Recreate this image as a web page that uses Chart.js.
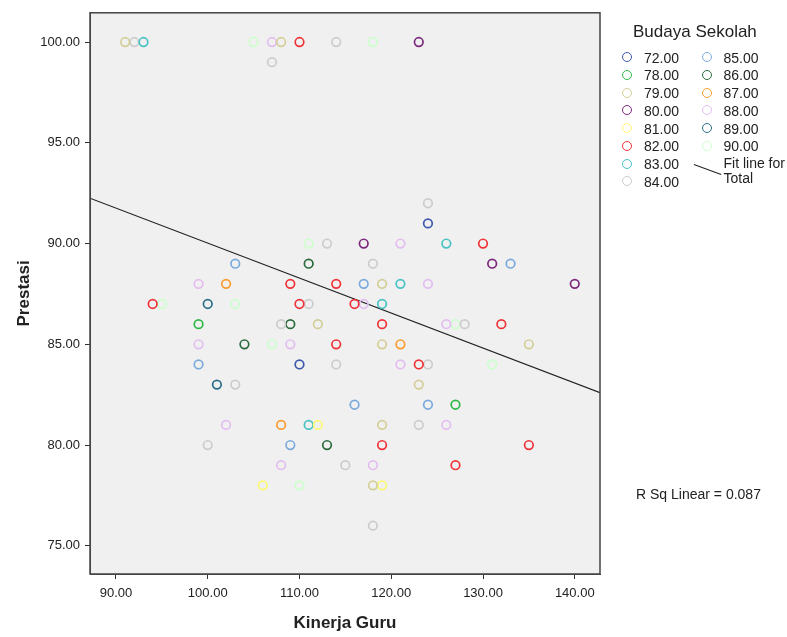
<!DOCTYPE html>
<html>
<head>
<meta charset="utf-8">
<title>Kinerja Guru vs Prestasi</title>
<script src="https://cdn.jsdelivr.net/npm/chart.js@4.4.1/dist/chart.umd.min.js"></script>
<style>
  body { margin: 0; background: #fff; font-family: "Liberation Sans", Arial, sans-serif; color: #222; }
  #wrap { position: relative; width: 787px; height: 637px; }
  #chart { position: absolute; left: 0; top: 0; }
  .leg-title { position: absolute; left: 633px; top: 22px; font-size: 17px; line-height: 20px; white-space: nowrap; }
  .leg-item { position: absolute; font-size: 14px; line-height: 16px; white-space: nowrap; }
  .leg-dot { position: absolute; width: 8px; height: 8px; border-radius: 50%; border: 1.6px solid; }
  .leg-fit { position: absolute; left: 693px; top: 169px; width: 29px; height: 1.3px; background: #222; transform: rotate(20deg); transform-origin: center; }
  .rsq { position: absolute; left: 636px; top: 486px; font-size: 14px; line-height: 16px; white-space: nowrap; }
</style>
</head>
<body>
<div id="wrap">
  <canvas id="chart" width="787" height="637"></canvas>
  <div id="legend"></div>
  <div class="rsq">R Sq Linear = 0.087</div>
</div>
<script>
// Budaya Sekolah groups and their SPSS colours
const groupLabels = ['72.00', '78.00', '79.00', '80.00', '81.00', '82.00', '83.00', '84.00',
                     '85.00', '86.00', '87.00', '88.00', '89.00', '90.00'];
const groupColors = ['#3E58AC', '#2EB848', '#D3CE97', '#7C287D', '#FBF873', '#EF3338', '#48C2C5', '#CCCCCC',
                     '#7BAADD', '#2A6B3E', '#F99B2F', '#E3BDF0', '#2C6E89', '#CCFFCC'];

// one entry per case: x = Kinerja Guru, y = Prestasi, group = Budaya Sekolah
const kinerjaGuru = [
  91, 92, 93, 105, 107, 108, 110, 114, 118, 123,
  107, 124, 124,
  111, 113, 117, 121, 126, 130,
  103, 111, 118, 131, 133,
  99, 102, 109, 114, 117, 119, 121, 124, 140,
  94, 95, 100, 103, 110, 111, 116, 117, 119,
  99, 108, 109, 112, 119, 126, 127, 128, 132,
  99, 104, 107, 109, 114, 119, 121, 135,
  99, 110, 114, 121, 123, 124, 131,
  101, 103, 123,
  116, 124, 127,
  102, 108, 111, 112, 119, 123, 126,
  100, 109, 113, 119, 135,
  108, 115, 118, 127,
  106, 110, 118, 119,
  118
];
const prestasi = [
  100, 100, 100, 100, 100, 100, 100, 100, 100, 100,
  99, 92, 91,
  90, 90, 90, 90, 90, 90,
  89, 89, 89, 89, 89,
  88, 88, 88, 88, 88, 88, 88, 88, 88,
  87, 87, 87, 87, 87, 87, 87, 87, 87,
  86, 86, 86, 86, 86, 86, 86, 86, 86,
  85, 85, 85, 85, 85, 85, 85, 85,
  84, 84, 84, 84, 84, 84, 84,
  83, 83, 83,
  82, 82, 82,
  81, 81, 81, 81, 81, 81, 81,
  80, 80, 80, 80, 80,
  79, 79, 79, 79,
  78, 78, 78, 78,
  76
];
const budaya = [
  79, 84, 83, 90, 88, 79, 82, 84, 90, 80,
  84, 84, 72,
  90, 84, 80, 88, 83, 82,
  85, 86, 84, 80, 85,
  88, 87, 82, 82, 85, 79, 83, 88, 80,
  82, 90, 89, 90, 82, 84, 82, 88, 83,
  78, 84, 86, 79, 82, 88, 90, 84, 82,
  88, 86, 90, 88, 82, 79, 87, 79,
  85, 72, 84, 88, 82, 84, 90,
  89, 84, 79,
  85, 85, 78,
  88, 87, 83, 81, 79, 84, 88,
  84, 85, 86, 82, 82,
  88, 84, 88, 82,
  81, 90, 79, 81,
  84
];

// fit line for Total, end points read at the plot edges
const fitX = [87.17, 142.75];
const fitY = [92.25, 82.6];

// axis ticks
const xTicks = [90, 100, 110, 120, 130, 140];
const yTicks = [75, 80, 85, 90, 95, 100];

const FONT = '"Liberation Sans", Arial, sans-serif';

const datasets = groupLabels.map((label, gi) => {
  const g = parseFloat(label);
  const pts = [];
  budaya.forEach((b, i) => {
    if (b === g) pts.push({ x: kinerjaGuru[i], y: prestasi[i] });
  });
  return {
    type: 'scatter',
    label: label,
    data: pts,
    borderColor: groupColors[gi],
    backgroundColor: 'rgba(0,0,0,0)',
    pointRadius: 4.3,
    pointBorderWidth: 1.7,
    pointStyle: 'circle'
  };
});

datasets.push({
  type: 'line',
  label: 'Fit line for Total',
  data: fitX.map((x, i) => ({ x: x, y: fitY[i] })),
  borderColor: '#222',
  borderWidth: 1.2,
  pointRadius: 0,
  fill: false
});

// plot background and frame
const framePlugin = {
  id: 'frame',
  beforeDraw(chart) {
    const { ctx, chartArea: a } = chart;
    ctx.save();
    ctx.fillStyle = '#F0F0F0';
    ctx.fillRect(a.left, a.top, a.right - a.left, a.bottom - a.top);
    ctx.restore();
  },
  afterDraw(chart) {
    const { ctx, chartArea: a } = chart;
    ctx.save();
    ctx.strokeStyle = '#444';
    ctx.lineWidth = 1.5;
    ctx.strokeRect(a.left, a.top, a.right - a.left, a.bottom - a.top);
    ctx.restore();
  }
};

new Chart(document.getElementById('chart').getContext('2d'), {
  data: { datasets: datasets },
  options: {
    responsive: false,
    animation: false,
    events: [],
    layout: { padding: { left: 0, right: 187, top: 12, bottom: 0 } },
    plugins: { legend: { display: false }, tooltip: { enabled: false } },
    scales: {
      x: {
        type: 'linear',
        min: 87.17,
        max: 142.75,
        afterBuildTicks: s => { s.ticks = xTicks.map(v => ({ value: v })); },
        afterFit: s => { s.height = 63; },
        ticks: { callback: v => v.toFixed(2), font: { size: 13, family: FONT }, color: '#222', padding: 7, maxRotation: 0, autoSkip: false },
        grid: { drawOnChartArea: false, drawTicks: true, tickLength: 5, color: '#333' },
        border: { display: true, color: '#444', width: 1 },
        title: { display: true, text: 'Kinerja Guru', font: { size: 17, weight: 'bold', family: FONT }, color: '#222', padding: { top: 0, bottom: 3 } }
      },
      y: {
        type: 'linear',
        min: 73.6,
        max: 101.45,
        afterBuildTicks: s => { s.ticks = yTicks.map(v => ({ value: v })); },
        afterFit: s => { s.width = 90; },
        ticks: { callback: v => v.toFixed(2), font: { size: 13, family: FONT }, color: '#222', padding: 5, autoSkip: false },
        grid: { drawOnChartArea: false, drawTicks: true, tickLength: 5, color: '#333' },
        border: { display: true, color: '#444', width: 1 },
        title: { display: true, text: 'Prestasi', font: { size: 17, weight: 'bold', family: FONT }, color: '#222', padding: { top: 14, bottom: 0 } }
      }
    }
  },
  plugins: [framePlugin]
});

// legend built from the group arrays
const legend = document.getElementById('legend');
let html = '<div class="leg-title">Budaya Sekolah</div>';
groupLabels.forEach((label, i) => {
  const col = i < 8 ? 0 : 1;
  const row = i < 8 ? i : i - 8;
  const cy = 57.7 + row * 17.75;
  const dotX = col === 0 ? 627.7 : 707.7;
  const textX = col === 0 ? 644 : 723.5;
  html += '<span class="leg-dot" style="left:' + (dotX - 5.6) + 'px;top:' + (cy - 5.6) + 'px;border-color:' + groupColors[i] + '"></span>';
  html += '<div class="leg-item" style="left:' + textX + 'px;top:' + (cy - 8) + 'px">' + label + '</div>';
});
html += '<div class="leg-fit"></div>';
html += '<div class="leg-item" style="left:723.5px;top:156px;line-height:15px">Fit line for<br>Total</div>';
legend.innerHTML = html;
</script>
</body>
</html>
